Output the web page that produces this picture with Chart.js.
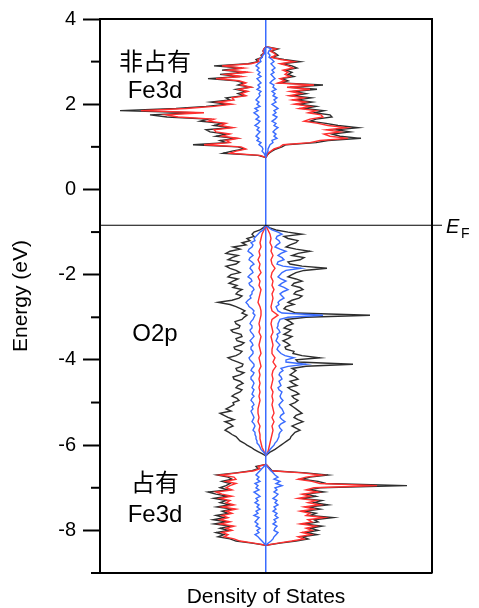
<!DOCTYPE html>
<html>
<head>
<meta charset="utf-8">
<script src="https://cdn.jsdelivr.net/npm/chart.js@4.4.1/dist/chart.umd.min.js"></script>
<style>
  html, body { margin: 0; padding: 0; background: #fff; }
  #wrap { width: 479px; height: 608px; }
</style>
</head>
<body>
<div id="wrap"><canvas id="dos" width="479" height="608"></canvas></div>
<script>
// Energy grids (eV)
const energyUnocc = [3.35,3.30,3.25,3.20,3.15,3.10,3.05,3.00,2.95,2.90,2.85,2.80,2.75,2.70,2.65,2.60,2.55,2.50,2.45,2.40,2.35,2.30,2.25,2.20,2.15,2.10,2.05,2.00,1.95,1.90,1.85,1.80,1.75,1.70,1.65,1.60,1.55,1.50,1.45,1.40,1.35,1.30,1.25,1.20,1.15,1.10,1.05,1.00,0.95,0.90,0.85,0.80,0.75];
const energyO2p = [-0.85,-0.95,-1.05,-1.15,-1.25,-1.35,-1.45,-1.55,-1.65,-1.75,-1.85,-1.95,-2.05,-2.15,-2.25,-2.35,-2.45,-2.55,-2.65,-2.75,-2.85,-2.95,-3.05,-3.15,-3.25,-3.35,-3.45,-3.55,-3.65,-3.75,-3.85,-3.95,-4.05,-4.15,-4.25,-4.35,-4.45,-4.55,-4.65,-4.75,-4.85,-4.95,-5.05,-5.15,-5.25,-5.35,-5.45,-5.55,-5.65,-5.75,-5.85,-5.95,-6.05,-6.15,-6.25];
const energyO2pFine = [-0.85,-0.90,-0.95,-1.00,-1.05,-1.10,-1.15,-1.20,-1.25,-1.30,-1.35,-1.40,-1.45,-1.50,-1.55,-1.60,-1.65,-1.70,-1.75,-1.80,-1.85,-1.90,-1.95,-2.00,-2.05,-2.10,-2.15,-2.20,-2.25,-2.30,-2.35,-2.40,-2.45,-2.50,-2.55,-2.60,-2.65,-2.70,-2.75,-2.80,-2.85,-2.90,-2.95,-3.00,-3.05,-3.10,-3.15,-3.20,-3.25,-3.30,-3.35,-3.40,-3.45,-3.50,-3.55,-3.60,-3.65,-3.70,-3.75,-3.80,-3.85,-3.90,-3.95,-4.00,-4.05,-4.10,-4.15,-4.20,-4.25,-4.30,-4.35,-4.40,-4.45,-4.50,-4.55,-4.60,-4.65,-4.70,-4.75,-4.80,-4.85,-4.90,-4.95,-5.00,-5.05,-5.10,-5.15,-5.20,-5.25,-5.30,-5.35,-5.40,-5.45,-5.50,-5.55,-5.60,-5.65,-5.70,-5.75,-5.80,-5.85,-5.90,-5.95,-6.00,-6.05,-6.10,-6.15,-6.20,-6.25];
const energyOcc = [-6.45,-6.50,-6.55,-6.60,-6.65,-6.70,-6.75,-6.80,-6.85,-6.90,-6.95,-7.00,-7.05,-7.10,-7.15,-7.20,-7.25,-7.30,-7.35,-7.40,-7.45,-7.50,-7.55,-7.60,-7.65,-7.70,-7.75,-7.80,-7.85,-7.90,-7.95,-8.00,-8.05,-8.10,-8.15,-8.20,-8.25,-8.30,-8.35];

// DOS magnitudes (arb. units); "Dn" is drawn to the left, "Up" to the right
// unoccupied Fe3d
const totalDnUnocc = [0,2,3,2,5,4,10,8,18,52,24,44,20,46,26,58,30,22,28,16,30,20,28,22,40,36,55,38,60,90,146,70,116,99,58,66,44,52,36,60,56,40,50,30,46,40,73,28,22,34,43,8,0];
const totalUpUnocc = [0,12,5,9,12,6,18,34,16,26,31,20,26,22,28,16,22,14,57,24,51,28,40,26,45,30,46,32,50,38,58,48,64,66,50,44,60,72,92,70,84,66,74,95,62,50,20,16,10,6,3,1,0];
const feDnUnocc = [0,2,3,2,4,4,8,7,15,44,22,38,18,40,24,50,27,20,25,15,27,18,25,20,34,32,48,34,52,80,125,62,100,88,52,58,40,46,33,52,50,36,44,28,40,36,62,25,20,30,36,6,0];
const feUpUnocc = [0,10,4,8,10,5,15,28,14,22,27,17,22,19,24,14,19,12,48,21,44,24,35,23,38,26,40,28,44,33,50,42,55,57,44,38,52,62,80,60,74,58,64,82,54,44,17,14,8,5,2,1,0];
const oDnUnocc = [0,1,2,1,3,4,6,5,8,10,7,9,6,8,5,9,7,5,8,6,9,5,7,6,8,10,7,9,6,11,8,12,9,7,10,6,8,11,7,9,6,8,10,7,9,5,7,4,3,4,2,1,0];
const oUpUnocc = [0,5,3,2,4,3,6,8,5,7,9,6,8,5,7,9,6,4,8,7,10,6,9,7,11,8,10,6,9,12,8,10,7,11,9,6,10,8,12,9,7,10,8,11,6,7,4,3,2,2,1,0,0];

// O2p valence band (total and O on the fine grid, Fe on the coarse one)
const totalDnO2p = [0,3,6,12,14,12,19,16,24,20,33,26,36,40,28,34,38,27,30,40,36,30,26,35,38,28,33,37,29,33,24,28,30,24,27,34,48,36,30,25,21,24,19,22,24,31,30,26,27,35,33,25,24,30,29,22,25,32,31,24,26,30,38,34,28,23,24,30,29,22,26,33,32,26,23,28,30,24,26,31,34,29,27,33,32,36,40,35,46,42,38,32,41,36,33,38,41,37,34,30,28,26,22,19,15,12,8,4,0];
const totalUpO2p = [0,4,10,22,36,18,22,32,30,24,20,30,44,32,26,38,34,22,24,36,61,38,30,26,22,30,36,28,26,34,37,30,28,36,33,26,22,28,20,18,24,30,104,40,20,24,27,21,18,25,22,18,26,22,17,21,24,19,20,28,27,36,54,30,32,87,40,26,30,27,24,29,32,24,27,31,22,25,30,33,26,28,32,29,24,27,30,33,36,30,28,32,37,31,26,30,34,29,27,25,24,21,18,15,12,9,5,2,0];
const oDnO2p = [0,2,3,6,8,10,12,11,15,13,14,17,18,15,13,16,17,14,12,15,16,14,13,16,18,15,14,17,16,13,12,14,14,16,15,18,20,18,17,14,12,13,11,12,13,15,16,14,14,16,15,13,12,14,16,14,13,15,15,13,13,15,17,16,14,12,12,14,15,12,13,15,15,13,12,13,14,12,13,14,12,14,15,13,12,14,13,15,14,13,12,13,14,12,11,12,13,11,11,10,10,9,9,7,6,5,3,1,0];
const oUpO2p = [0,3,6,12,16,11,10,13,14,11,9,14,20,15,12,16,18,12,11,17,35,20,16,14,12,15,20,16,13,18,22,17,14,16,18,14,12,13,10,11,12,16,57,22,14,13,12,12,11,13,14,11,12,11,10,12,14,12,11,13,15,19,28,20,20,40,22,15,17,14,13,15,16,13,14,15,12,13,16,15,14,15,17,15,13,14,16,17,18,15,14,16,19,15,13,14,16,14,13,13,12,11,9,8,6,4,3,1,0];
const feDnO2p = [0,2,4,5,6,5,7,6,8,6,7,5,8,6,7,5,6,7,8,6,5,5,6,7,6,7,5,6,7,6,5,7,6,5,7,6,7,6,7,6,7,6,7,8,8,7,8,6,7,6,6,5,4,2,0];
const feUpO2p = [0,2,4,5,4,6,5,7,5,6,9,6,5,7,6,8,6,7,6,5,6,12,6,5,6,7,5,6,7,6,6,9,7,10,7,6,7,6,5,7,6,7,6,7,8,6,8,6,7,6,5,4,3,2,0];

// occupied Fe3d
const totalDnOcc = [0,10,8,14,30,49,38,34,44,36,40,46,38,58,50,38,52,40,46,36,49,34,44,38,50,42,53,40,52,36,46,38,50,42,48,36,30,14,0];
const totalUpOcc = [0,2,4,6,40,62,44,36,52,60,141,54,44,58,40,50,36,56,48,62,42,54,38,50,44,67,48,52,38,56,44,52,40,51,36,42,30,14,0];
const feDnOcc = [0,8,6,12,28,46,32,30,40,30,36,40,34,50,44,34,46,36,40,32,44,30,40,34,44,38,46,36,46,32,40,34,44,38,42,32,26,12,0];
const feUpOcc = [0,2,3,5,36,56,40,32,46,54,111,48,40,52,36,44,32,50,42,54,38,48,34,44,40,58,42,46,34,50,40,46,36,45,32,38,26,12,0];
const oDnOcc = [0,2,4,6,8,10,7,9,6,11,8,10,7,12,9,6,10,8,11,7,9,6,10,8,12,7,9,11,8,10,6,9,7,11,8,6,4,2,0];
const oUpOcc = [0,1,3,5,7,9,12,8,14,10,16,9,11,8,12,10,7,11,9,12,8,10,7,11,9,12,8,10,7,11,9,8,12,10,8,7,5,2,0];

const fermiLevel = -0.84;
const energyMin = -9;
const energyMax = 4;
const dosLimit = 166;

// text labels placed in data units (x = DOS, y = energy)
const bandLabels = [
  { text: '非占有', x: -111, y: 2.96 },
  { text: 'Fe3d', x: -111, y: 2.29 },
  { text: 'O2p', x: -111, y: -3.40 },
  { text: '占有', x: -111, y: -6.93 },
  { text: 'Fe3d', x: -111, y: -7.64 }
];

const BLACK = '#2e2e2e';
const RED = '#ff2f2f';
const BLUE = '#3a6cff';
const FONT = '"Liberation Sans", Arial, "Noto Sans CJK SC", sans-serif';

function side(energy, values, sign) {
  return energy.map((e, i) => ({ x: sign * values[i], y: e }));
}

function curve(energy, values, sign, color) {
  return {
    data: side(energy, values, sign),
    showLine: true,
    borderColor: color,
    borderWidth: 1.4,
    pointRadius: 0,
    tension: 0,
    fill: false
  };
}

// first dataset ends up on top, so blue goes first, black last
const datasets = [
  curve(energyUnocc, oDnUnocc, -1, BLUE), curve(energyUnocc, oUpUnocc, 1, BLUE),
  curve(energyO2pFine, oDnO2p, -1, BLUE), curve(energyO2pFine, oUpO2p, 1, BLUE),
  curve(energyOcc, oDnOcc, -1, BLUE), curve(energyOcc, oUpOcc, 1, BLUE),

  curve(energyUnocc, feDnUnocc, -1, RED), curve(energyUnocc, feUpUnocc, 1, RED),
  curve(energyO2p, feDnO2p, -1, RED), curve(energyO2p, feUpO2p, 1, RED),
  curve(energyOcc, feDnOcc, -1, RED), curve(energyOcc, feUpOcc, 1, RED),

  curve(energyUnocc, totalDnUnocc, -1, BLACK), curve(energyUnocc, totalUpUnocc, 1, BLACK),
  curve(energyO2pFine, totalDnO2p, -1, BLACK), curve(energyO2pFine, totalUpO2p, 1, BLACK),
  curve(energyOcc, totalDnOcc, -1, BLACK), curve(energyOcc, totalUpOcc, 1, BLACK)
];

// frame, minor ticks, Fermi level and band labels
const extras = {
  id: 'extras',
  afterDatasetsDraw(chart) {
    const { ctx, chartArea: a, scales: { x, y } } = chart;
    ctx.save();
    // Fermi level line, running a bit past the frame
    const yf = y.getPixelForValue(fermiLevel);
    ctx.strokeStyle = '#000';
    ctx.lineWidth = 1.2;
    ctx.beginPath();
    ctx.moveTo(a.left, yf);
    ctx.lineTo(a.right + 10, yf);
    ctx.stroke();

    ctx.fillStyle = '#000';
    ctx.textBaseline = 'alphabetic';
    ctx.textAlign = 'left';
    ctx.font = 'italic 20px ' + FONT;
    ctx.fillText('E', a.right + 14, yf + 8);
    ctx.font = '14px ' + FONT;
    ctx.fillText('F', a.right + 29, yf + 13);

    // labels
    ctx.font = '24px ' + FONT;
    ctx.textAlign = 'center';
    ctx.textBaseline = 'middle';
    bandLabels.forEach(l => {
      ctx.fillText(l.text, x.getPixelForValue(l.x), y.getPixelForValue(l.y));
    });
    ctx.restore();
  },
  afterDraw(chart) {
    const { ctx, chartArea: a, scales: { y } } = chart;
    ctx.save();
    ctx.strokeStyle = '#000';
    ctx.lineWidth = 2;
    ctx.beginPath();
    ctx.moveTo(a.left, a.top);
    ctx.lineTo(a.right, a.top);
    ctx.lineTo(a.right, a.bottom);
    ctx.stroke();
    // minor ticks on odd energies
    y.ticks.forEach(t => {
      if (Math.abs(t.value % 2) === 1) {
        const py = y.getPixelForValue(t.value);
        ctx.beginPath();
        ctx.moveTo(a.left - 9, py);
        ctx.lineTo(a.left, py);
        ctx.stroke();
      }
    });
    ctx.restore();
  }
};

new Chart(document.getElementById('dos'), {
  type: 'scatter',
  data: { datasets: datasets },
  options: {
    responsive: false,
    animation: false,
    devicePixelRatio: 1,
    layout: { padding: { top: 16, right: 47, left: 0, bottom: 0 } },
    plugins: { legend: { display: false }, tooltip: { enabled: false } },
    scales: {
      x: {
        type: 'linear',
        min: -dosLimit,
        max: dosLimit,
        afterBuildTicks: axis => { axis.ticks = [{ value: 0 }]; },
        afterFit: axis => { axis.height = 35; },
        ticks: { display: false },
        grid: { color: BLUE, lineWidth: 1.5, drawTicks: false },
        border: { color: '#000', width: 2 },
        title: {
          display: true,
          text: 'Density of States',
          color: '#000',
          font: { family: FONT, size: 21, lineHeight: 1.05 },
          padding: 0
        }
      },
      y: {
        type: 'linear',
        min: energyMin,
        max: energyMax,
        afterFit: axis => { axis.width = 100; },
        ticks: {
          stepSize: 1,
          color: '#000',
          padding: 7,
          font: { family: FONT, size: 20 },
          callback: v => (v % 2 === 0 ? String(v) : '')
        },
        grid: {
          drawOnChartArea: false,
          tickLength: 17,
          tickWidth: 2,
          tickColor: c => (c.tick && c.tick.value % 2 === 0 ? '#000' : 'rgba(0,0,0,0)')
        },
        border: { color: '#000', width: 2 },
        title: {
          display: true,
          text: 'Energy (eV)',
          color: '#000',
          font: { family: FONT, size: 21, lineHeight: 1.2 },
          padding: { top: 9, bottom: 0 }
        }
      }
    }
  },
  plugins: [extras]
});
</script>
</body>
</html>
